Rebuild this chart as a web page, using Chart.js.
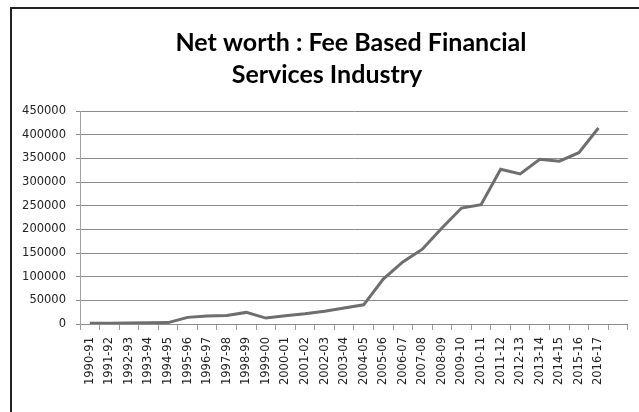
<!DOCTYPE html>
<html>
<head>
<meta charset="utf-8">
<script src="https://cdn.jsdelivr.net/npm/chart.js@4/dist/chart.umd.min.js"></script>
<style>
    html, body { margin: 0; padding: 0; background: #fff; }
    #wrap { position: relative; width: 639px; height: 412px; }
</style>
</head>
<body>
<div id="wrap"><canvas id="graficoNetWorth" width="639" height="412"></canvas></div>
<script>
const anos = ['1990-91', '1991-92', '1992-93', '1993-94', '1994-95', '1995-96', '1996-97',
    '1997-98', '1998-99', '1999-00', '2000-01', '2001-02', '2002-03', '2003-04', '2004-05',
    '2005-06', '2006-07', '2007-08', '2008-09', '2009-10', '2010-11', '2011-12', '2012-13',
    '2013-14', '2014-15', '2015-16', '2016-17', ''];

const netWorth = [1500, 1800, 2000, 2500, 3000, 14000, 17000,
    18000, 24500, 12500, 17500, 21500, 27000, 34000, 40500,
    95000, 131000, 158000, 203000, 245000, 252000, 327000, 317000,
    348000, 344000, 362000, 414000];

const tituloLinhas = ['Net worth : Fee Based Financial', 'Services Industry'];

document.addEventListener("DOMContentLoaded", function () {

    // frame + two-line title, each line with its own centre like the office chart
    const molduraTitulo = {
        id: 'molduraTitulo',
        beforeDraw(chart) {
            const ctx = chart.ctx;
            ctx.save();
            ctx.fillStyle = '#fff';
            ctx.fillRect(0, 0, chart.width, chart.height);
            ctx.strokeStyle = '#222';
            ctx.lineWidth = 2;
            ctx.beginPath();
            ctx.moveTo(11, chart.height);
            ctx.lineTo(11, 8);
            ctx.lineTo(chart.width, 8);
            ctx.stroke();

            ctx.fillStyle = '#000';
            ctx.font = 'bold 25px Lato';
            ctx.textAlign = 'center';
            ctx.textBaseline = 'alphabetic';
            ctx.fillText(tituloLinhas[0], 351, 51);
            ctx.fillText(tituloLinhas[1], 327, 83);
            ctx.restore();
        }
    };

    new Chart(document.getElementById('graficoNetWorth'), {
        type: 'line',
        data: {
            labels: anos,
            datasets: [{
                label: 'Net worth',
                data: netWorth,
                borderColor: '#6e6e6e',
                borderWidth: 3,
                pointRadius: 0,
                tension: 0,
                fill: false
            }]
        },
        options: {
            responsive: false,
            animation: false,
            layout: { padding: { top: 111, right: 11, bottom: 0, left: 0 } },
            plugins: { legend: { display: false }, title: { display: false }, tooltip: { enabled: false } },
            scales: {
                x: {
                    offset: true,
                    afterFit: (s) => { s.height = 88; },
                    grid: { offset: true, drawOnChartArea: false, color: '#9a9a9a', tickLength: 6 },
                    border: { color: '#8c8c8c' },
                    ticks: {
                        autoSkip: false, maxRotation: 90, minRotation: 90, padding: 7,
                        color: '#222', font: { family: 'DejaVu Sans', size: 11.5 }
                    }
                },
                y: {
                    min: 0, max: 450000,
                    afterFit: (s) => { s.width = 80; },
                    grid: { color: '#8c8c8c', tickLength: 4 },
                    border: { color: '#a0a0a0' },
                    ticks: {
                        stepSize: 50000, padding: 10,
                        color: '#222', font: { family: 'DejaVu Sans', size: 11.5 },
                        callback: (v) => String(v)
                    }
                }
            }
        },
        plugins: [molduraTitulo]
    });
});
</script>
</body>
</html>
